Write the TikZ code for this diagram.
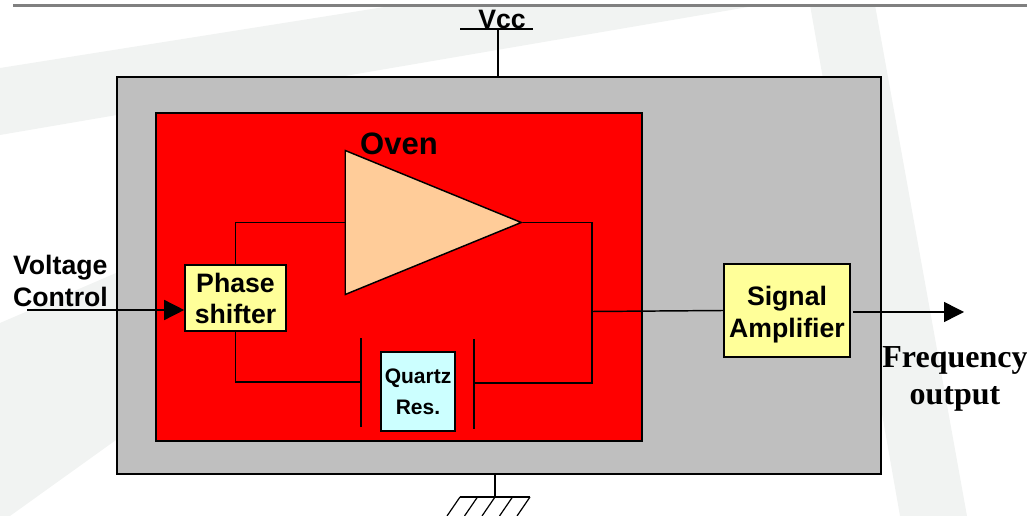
\documentclass[tikz,border=0pt]{standalone}
\usepackage{fontspec}
\setmainfont{Liberation Sans}
\newfontfamily\timesfont{Liberation Serif}
\usepackage{xcolor}
\usetikzlibrary{arrows.meta,positioning,shapes.geometric}

\definecolor{swoosh}{HTML}{F1F3F2}
\definecolor{rulegray}{HTML}{808080}
\definecolor{casegray}{HTML}{BFBFBF}
\definecolor{ampfill}{HTML}{FFCC99}
\definecolor{boxyellow}{HTML}{FFFF99}
\definecolor{boxcyan}{HTML}{CCFFFF}

\begin{document}
\begin{tikzpicture}[
  x=0.75pt, y=-0.75pt,
  >={Triangle[length=15pt,width=15pt]},
  wire/.style={draw, line width=1.1pt},
  arr/.style={->, line width=1.1pt},
  area/.style={draw, line width=1.3pt, inner sep=0pt},
  block/.style={draw, line width=1.2pt, inner sep=0pt, align=center,
                font=\fontsize{20}{23.25}\selectfont\bfseries},
  lbl/.style={inner sep=0pt, font=\fontsize{20}{24}\selectfont\bfseries},
  amp/.style={draw, line width=1.1pt, fill=ampfill, inner sep=0pt,
              isosceles triangle, isosceles triangle stretches,
              shape border rotate=0, anchor=lower side},
]
\useasboundingbox (0,0) rectangle (1027,516);

% ---- backdrop ----
\fill[swoosh] (0,68) -- (397,5) -- (760,5) -- (0,135) -- cycle;
\fill[swoosh] (0,323) -- (116,273) -- (300,200) -- (300,300) -- (116,440) -- (10,516) -- (0,516) -- cycle;
\fill[swoosh] (810,5) -- (875,5) -- (967,516) -- (900,516) -- cycle;
\fill[rulegray] (13,4) rectangle (1027,7);

% ---- enclosures ----
\node[area, fill=casegray, minimum width=573pt, minimum height=297.75pt] (case) at (499,275.5) {};
\node[area, fill=red, minimum width=364.5pt, minimum height=246pt] (oven) at (399,277) {};
\node[font=\fontsize{23.25}{26}\selectfont\bfseries, inner sep=0pt] (ovenlbl) at (399,144) {Oven};

% ---- blocks ----
\node[amp, minimum width=108pt, minimum height=132pt] (A) at (344.5,222.5) {};
\node[block, fill=boxyellow, minimum width=75.75pt, minimum height=49.5pt] (PS) at (235.5,298) {\rule{0pt}{15.4pt}Phase\\shifter};
\node[block, fill=boxcyan, minimum width=55.5pt, minimum height=59.25pt,
      font=\fontsize{15.75}{23.25}\selectfont\bfseries] (Q) at (418,391.5) {Quartz\\Res.};
\node[block, fill=boxyellow, minimum width=94.5pt, minimum height=69.75pt] (SA) at (787,310.5) {\rule{0pt}{20.6pt}Signal\\[0.75pt]Amplifier};

% ---- crystal plates ----
\coordinate (P1t) at (361,338);
\coordinate (P1b) at (361,427);
\coordinate (P2t) at (474,339);
\coordinate (P2b) at (474,429);
\coordinate (P1m) at (361,382);
\coordinate (P2m) at (474,383);
\draw[wire] (P1t) -- (P1b);
\draw[wire] (P2t) -- (P2b);

% ---- loop ----
\coordinate (T) at (592,311.5);
\draw[wire] (A.lower side) -| (PS.north);
\draw[wire] (PS.south) |- (P1m);
\draw[wire] (A.apex) -| (T) |- (P2m);
\draw[wire] (T) -- (SA.west);

% ---- input, output ----
\coordinate (VIN) at (27,310);
\coordinate (FOUT) at (964,312);
\coordinate (SAout) at (853,312);
\draw[arr] (VIN) -- (VIN -| PS.west);
\draw[arr] (SAout) -- (FOUT);
\node[lbl, align=left] (VC) at (60.5,281) {Voltage\\Control};
\node[inner sep=0pt, align=center, font=\fontsize{24}{28}\selectfont\bfseries\timesfont] (FO) at (955,379) {Frequency\\output};

% ---- supply ----
\node[lbl] (VCC) at (502,19) {Vcc};
\coordinate (VL) at (460,29);
\coordinate (VR) at (533,29);
\coordinate (VM) at (498,29);
\draw[wire] (VL) -- (VR);
\draw[wire] (VM) -- (VM |- case.north);

% ---- ground ----
\coordinate (GM) at (495,497);
\coordinate (GL) at (460,497);
\coordinate (GR) at (530,497);
\draw[wire] (GM |- case.south) -- (GM);
\draw[line width=0.9pt] (GL) -- (GR);
\foreach \x in {460,477.5,495,512.5,530}
  \draw[line width=0.9pt] (\x,497) -- (\x-13,516);
\end{tikzpicture}
\end{document}
